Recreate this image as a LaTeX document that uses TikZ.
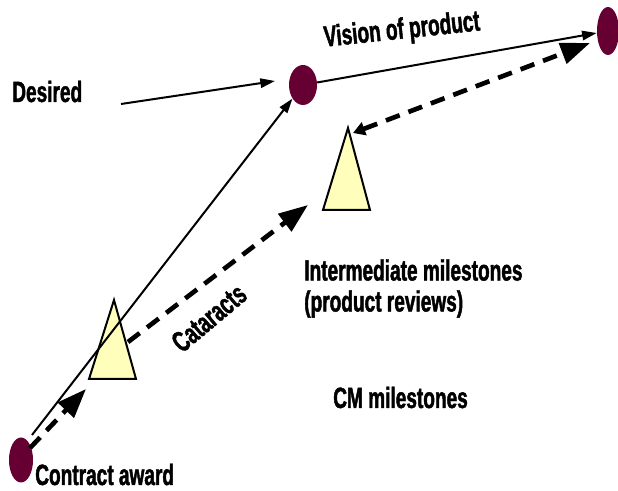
\documentclass[tikz,border=0pt]{standalone}
\usepackage{fontspec}
\newfontfamily\diagfont[FakeStretch=0.65,FakeBold=1.5]{Liberation Sans Bold}
\usepackage{tikz}
\usetikzlibrary{arrows.meta, shapes.geometric, positioning}
\definecolor{maroon}{RGB}{102,0,51}
\definecolor{paleyellow}{RGB}{255,255,187}

\begin{document}
\begin{tikzpicture}[x=0.75pt,y=-0.75pt,
    gate/.style={ellipse, fill=maroon, inner sep=0pt},
    milestone/.style={draw, fill=paleyellow, line width=1.5pt},
    thinarrow/.style={line width=1.5pt, -{Triangle[length=11pt,width=7pt]}},
    dasharrow/.style={line width=3.5pt, dash pattern=on 11pt off 7pt,
        -{Triangle[length=22pt,width=16pt]}},
    txt/.style={inner sep=0pt, font=\diagfont\fontsize{22pt}{23.25pt}\selectfont}]
\useasboundingbox[fill=white] (0,0) rectangle (618,491);
\node[gate, minimum width=18pt, minimum height=33.75pt] (award) at (21,460) {};
\node[gate, minimum width=21pt, minimum height=30pt] (vision) at (303,85) {};
\node[gate, minimum width=16.5pt, minimum height=36pt] (goal) at (608,31) {};
\draw[milestone] (114,300) coordinate (cm) -- (136,379) -- (89,379) -- cycle;
\draw[milestone] (348,128) coordinate (im) -- (370,210) -- (323,210) -- cycle;
\coordinate (dfrom) at (121,104);
\coordinate (dto) at (275,81);
\coordinate (afrom) at (32,435);
\coordinate (cfrom) at (30,448);
\coordinate (cto) at (86,389);
\coordinate (ifrom) at (128,342);
\coordinate (ito) at (308,205);
\coordinate (gfrom) at (353,133);
\coordinate (gto) at (590,43);
\draw[thinarrow] (dfrom) -- (dto);
\draw[thinarrow] (vision) -- (goal);
\draw[thinarrow] (afrom) -- (vision);
\draw[dasharrow] (cfrom) -- (cto);
\draw[dasharrow] (ifrom) -- (ito);
\draw[dasharrow, {Triangle[length=9pt,width=10pt]}-{Triangle[length=22pt,width=16pt]}] (gfrom) -- (gto);
\node[txt, anchor=base west] (desired) at (12,102) {Desired};
\node[txt, rotate=6] (vtext) at (402,31) {Vision of product};
\node[txt, rotate=40] (cataracts) at (209,318) {Cataracts};
\node[txt, anchor=north west, align=left] (inter) at (304,259) {Intermediate milestones\\(product reviews)};
\node[txt, anchor=base west] (cmtext) at (333,408) {CM milestones};
\node[txt, anchor=base west] (contract) at (35,485) {Contract award};
\end{tikzpicture}
\end{document}
